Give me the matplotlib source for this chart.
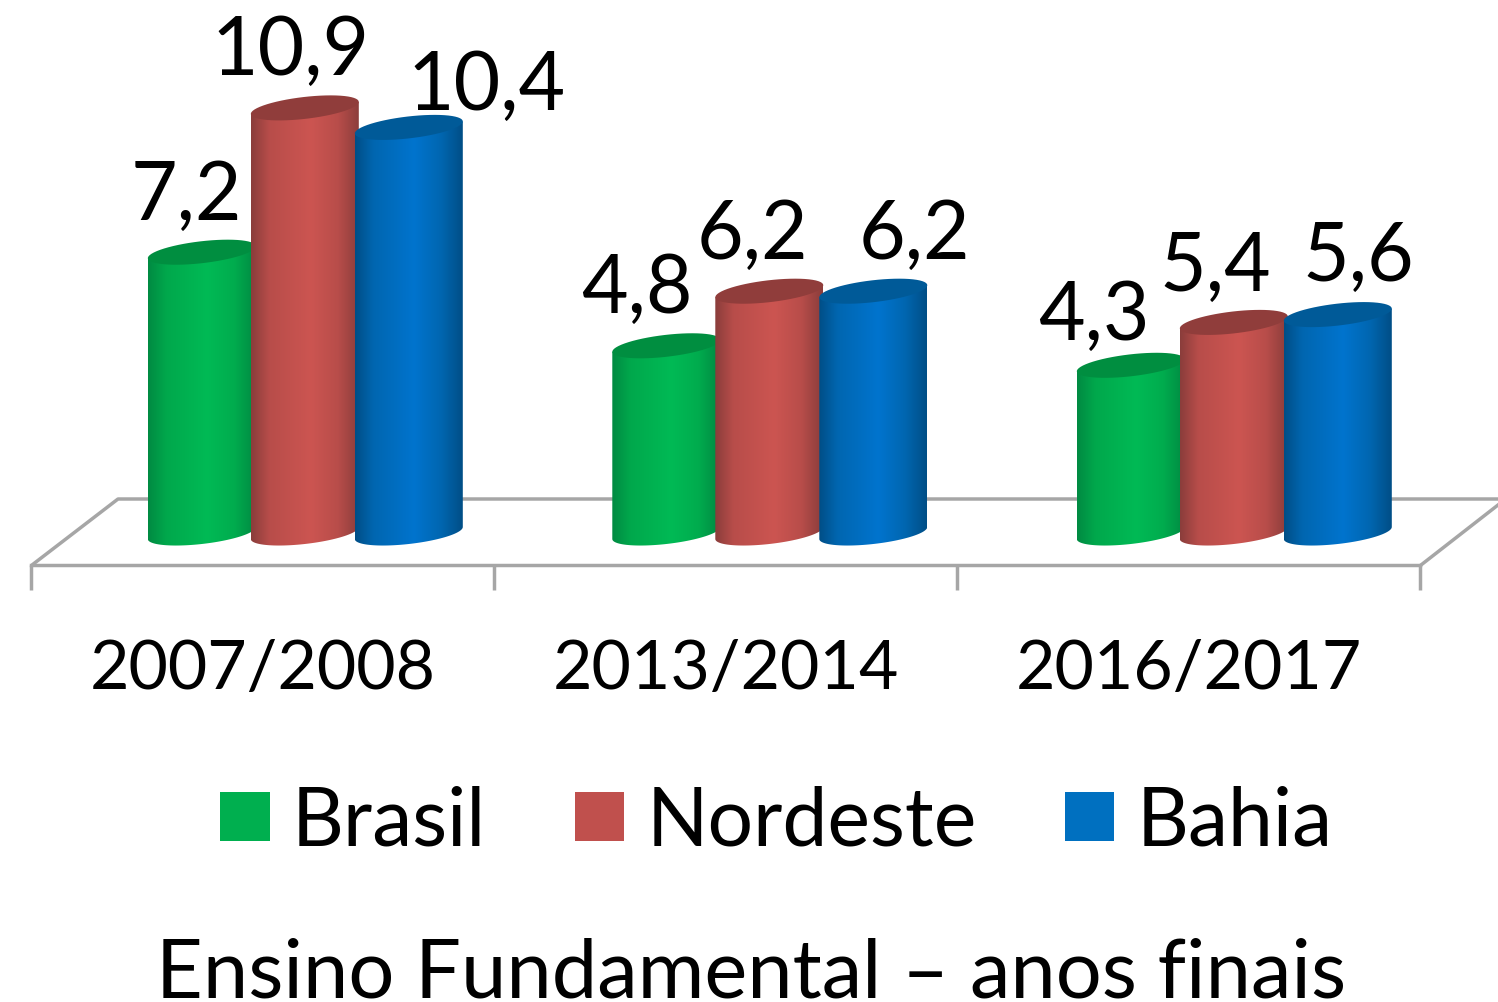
import numpy as np
import matplotlib
matplotlib.use("Agg")
import matplotlib.pyplot as plt
from matplotlib.colors import LinearSegmentedColormap
from matplotlib.patches import PathPatch, Patch
from matplotlib.path import Path

# ---- data ----
periods = ["2007/2008", "2013/2014", "2016/2017"]
series_names = ["Brasil", "Nordeste", "Bahia"]
brasil = [7.2, 4.8, 4.3]
nordeste = [10.9, 6.2, 5.4]
bahia = [10.4, 6.2, 5.6]
title = "Ensino Fundamental – anos finais"

# ---- styles ----
W, H = 1498, 1002
FONT = "Lato"
LABEL_SIZE = 58
TITLE_SIZE = 58.5
TICK_SIZE = 49
colors_flat = ["#00AF4F", "#C0504D", "#0070C0"]
colors_top = ["#008E40", "#903D3B", "#005A98"]
ramps = [
    ["#008A42", "#00A84C", "#00BA55", "#00AC4E", "#008A42"],
    ["#8A3D3B", "#B84D4A", "#CC5551", "#B84D4A", "#8A3D3B"],
    ["#004E86", "#0066B0", "#0074CE", "#0066B0", "#004E86"],
]
ramp_stops = [0.0, 0.17, 0.55, 0.8, 1.0]
GREY = "#A6A6A6"
LINE = 2.5

plt.rcParams["font.family"] = [FONT, "DejaVu Sans"]
fig = plt.figure(figsize=(W / 100, H / 100), dpi=100, facecolor="white")

# the axes runs from the front floor edge up to the top of the picture
AX_L, AX_R, AX_B = 31, 1420, 565
ax = fig.add_axes([AX_L / W, 1 - AX_B / H, (AX_R - AX_L) / W, AX_B / H])
ax.patch.set_alpha(0)
PX_PER_UNIT = 39.0
BASE_PX = 533.0
XLIM = (-0.5, 2.5)
YLIM = ((BASE_PX - AX_B) / PX_PER_UNIT, BASE_PX / PX_PER_UNIT)
px_per_group = (AX_R - AX_L) / 3


def px_x(p):
    return XLIM[0] + (p - AX_L) / px_per_group


def px_y(p):
    return (BASE_PX - p) / PX_PER_UNIT


# floor behind the bars
ax.plot([px_x(32), px_x(118), px_x(W)], [px_y(565), px_y(499), px_y(499)],
        color=GREY, lw=LINE, clip_on=False, zorder=1, solid_capstyle="butt")
ax.plot([px_x(1421), px_x(1498)], [px_y(565), px_y(505)],
        color=GREY, lw=LINE, clip_on=False, zorder=1)

RX = 54 / px_per_group
SHEAR = 6 / PX_PER_UNIT
RY = 11 / PX_PER_UNIT
offsets = [-60.7 / px_per_group, 42.3 / px_per_group, 146.3 / px_per_group]
GROUP_STEP = 464.5 / px_per_group
# label offsets from the top centre of each bar, in pixels
label_dx = [[-15, -29, -37], [-14, -17, -19], [78, 41, 21]]
label_dy = [[32, 33, 25], [33, 32, 31], [17, 32, 34]]


def ellipse(cx, cy, n=60, start=0.0, stop=2 * np.pi):
    t = np.linspace(start, stop, n)
    return (cx + RX * np.cos(t),
            cy + SHEAR * np.cos(t) + RY * np.sin(t))


all_series = [brasil, nordeste, bahia]
z = 3
for s, vals in enumerate(all_series):
    cmap = LinearSegmentedColormap.from_list(
        "c%d" % s, list(zip(ramp_stops, ramps[s])))
    grad = np.linspace(0, 1, 256).reshape(1, -1)
    for g, v in enumerate(vals):
        cx = g * GROUP_STEP + offsets[s]
        bx, by = ellipse(cx, 0.0, start=np.pi, stop=2 * np.pi)
        px = np.r_[cx - RX, bx, cx + RX, cx - RX]
        py = np.r_[v - SHEAR, by, v + SHEAR, v - SHEAR]
        body = PathPatch(Path(np.c_[px, py]), fc="none", ec="none",
                         transform=ax.transData)
        ax.add_patch(body)
        im = ax.imshow(grad, cmap=cmap, aspect="auto", zorder=z,
                       extent=(cx - RX, cx + RX, -2, v + 2), clip_on=True)
        im.set_clip_path(body)
        body.set_zorder(z)
        tx, ty = ellipse(cx, v)
        ax.fill(tx, ty, color=colors_top[s], zorder=z + 0.5, lw=0)
        z += 1
        ax.annotate(f"{v:.1f}".replace(".", ","), (cx, v),
                    xytext=(label_dx[s][g], label_dy[s][g]),
                    textcoords="offset pixels", ha="center", va="baseline",
                    fontsize=LABEL_SIZE, color="black", zorder=50,
                    annotation_clip=False)

ax.set_xlim(*XLIM)
ax.set_ylim(*YLIM)

# category axis = the front edge of the floor
for name in ["top", "left", "right"]:
    ax.spines[name].set_visible(False)
ax.spines["bottom"].set_color(GREY)
ax.spines["bottom"].set_linewidth(LINE)
ax.set_yticks([])
ax.set_xticks(range(len(periods)))
ax.set_xticklabels(periods, fontsize=TICK_SIZE, color="black")
ax.set_xticks([-0.5, 0.5, 1.5, 2.5], minor=True)
ax.tick_params(axis="x", which="major", length=0, pad=53)
ax.tick_params(axis="x", which="minor", length=18, width=LINE, color=GREY)

handles = [Patch(facecolor=c, edgecolor="none") for c in colors_flat]
fig.legend(handles, series_names, ncol=3, frameon=False, loc="center",
           bbox_to_anchor=(776.5 / W, 1 - 822 / H), fontsize=LABEL_SIZE,
           handlelength=0.61, handleheight=0.56, handletextpad=0.28,
           columnspacing=1.095, borderpad=0, borderaxespad=0)

fig.text(751 / W, 1 - 997 / H, title, ha="center", va="baseline",
         fontsize=TITLE_SIZE, color="black")

fig.savefig("out.png", dpi=100, facecolor="white")
